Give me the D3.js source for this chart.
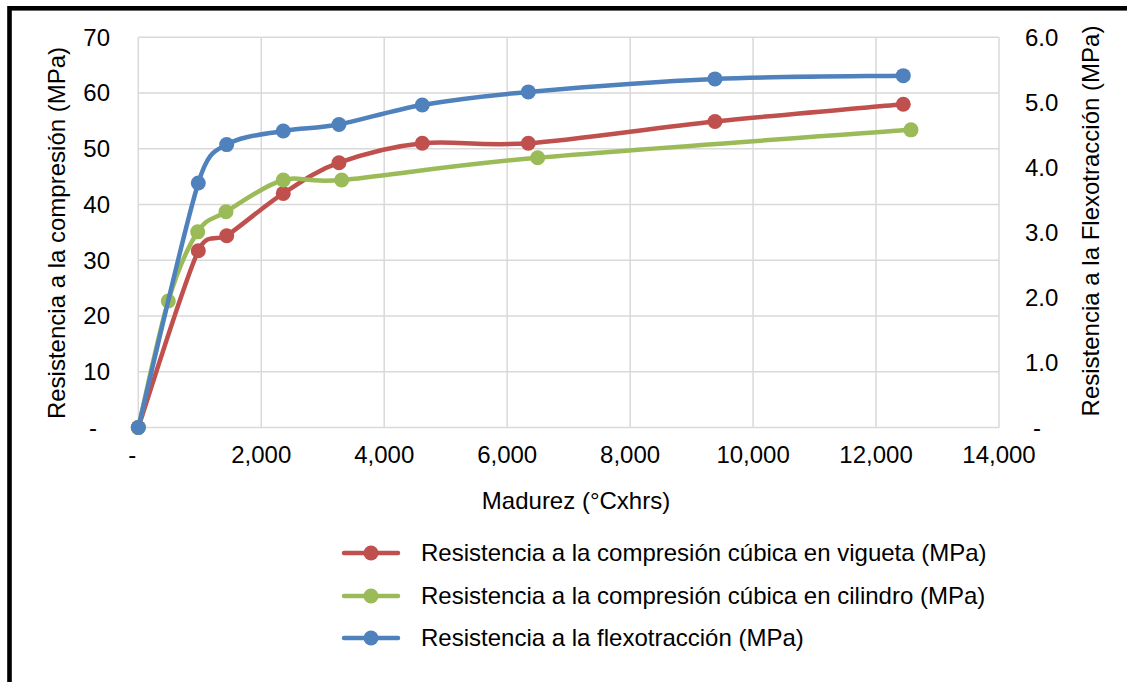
<!DOCTYPE html>
<html>
<head>
<meta charset="utf-8">
<script src="https://cdn.jsdelivr.net/npm/d3@7"></script>
<style>
  html, body { margin: 0; padding: 0; background: #fff; }
  svg { display: block; }
  text { font-family: "Liberation Sans", Arial, sans-serif; fill: #000; }
</style>
</head>
<body>
<svg id="chart" width="1127" height="682"></svg>
<script>
// Maturity (°C·h) at each test age
const madurezVigueta = [0, 976, 1438, 2358, 3264, 4619, 6344, 9380, 12443];
const madurezCilindro = [0, 488, 966, 1426, 2358, 3308, 6496, 12568];

// Strength results (MPa)
const compresionVigueta = [0, 31.7, 34.4, 42.0, 47.5, 51.0, 51.0, 54.9, 58.0];
const compresionCilindro = [0, 22.7, 35.1, 38.7, 44.4, 44.4, 48.4, 53.4];
const flexotraccion = [0, 3.76, 4.35, 4.56, 4.66, 4.96, 5.16, 5.36, 5.41];

// Axis ticks
const xTicks = [0, 2000, 4000, 6000, 8000, 10000, 12000, 14000];
const yLeftTicks = [0, 10, 20, 30, 40, 50, 60, 70];
const yRightTicks = [0, 1, 2, 3, 4, 5, 6];

const seriesNames = [
  "Resistencia a la compresión cúbica en vigueta (MPa)",
  "Resistencia a la compresión cúbica en cilindro (MPa)",
  "Resistencia a la flexotracción (MPa)"
];
const seriesColors = ["#C0504D", "#9BBB59", "#4F81BD"];

const svg = d3.select("#chart");
const plot = { left: 138.3, right: 999, top: 37.3, bottom: 427.5 };

const x = d3.scaleLinear().domain([0, 14000]).range([plot.left, plot.right]);
const yL = d3.scaleLinear().domain([0, 70]).range([plot.bottom, plot.top]);
const yR = d3.scaleLinear().domain([0, 6]).range([plot.bottom, plot.top]);

const fmtThousands = d3.format(",");
const FONT = "24px";
const MARKER_R = 7.5;

// Smoothed line: cubic Bézier segments with tangents (next - prev) / 6,
// shortened when the handles would be longer than the segment itself.
function SmoothCurve(context) { this._context = context; }
SmoothCurve.prototype = {
  areaStart() {}, areaEnd() {},
  lineStart() { this._pts = []; },
  point(px, py) { this._pts.push([+px, +py]); },
  lineEnd() {
    const p = this._pts, c = this._context, n = p.length;
    if (!n) return;
    c.moveTo(p[0][0], p[0][1]);
    for (let i = 0; i < n - 1; i++) {
      const p0 = p[Math.max(i - 1, 0)], p1 = p[i], p2 = p[i + 1], p3 = p[Math.min(i + 2, n - 1)];
      let ax = (p2[0] - p0[0]) / 6, ay = (p2[1] - p0[1]) / 6;
      let bx = (p3[0] - p1[0]) / 6, by = (p3[1] - p1[1]) / 6;
      const L = Math.hypot(p2[0] - p1[0], p2[1] - p1[1]);
      const la = Math.hypot(ax, ay), lb = Math.hypot(bx, by);
      if (la + lb > L && la + lb > 0) {
        const k = L / (la + lb);
        ax *= k; ay *= k; bx *= k; by *= k;
      }
      c.bezierCurveTo(p1[0] + ax, p1[1] + ay, p2[0] - bx, p2[1] - by, p2[0], p2[1]);
    }
  }
};
const smooth = ctx => new SmoothCurve(ctx);

// Outer frame
svg.append("rect")
  .attr("x", 9.5).attr("y", 8.3)
  .attr("width", 1200).attr("height", 800)
  .attr("fill", "none").attr("stroke", "#000").attr("stroke-width", 4.6);

// Gridlines
const grid = svg.append("g").attr("stroke", "#D9D9D9").attr("stroke-width", 1.5);
grid.selectAll("line.h").data(yLeftTicks).join("line")
  .attr("x1", plot.left).attr("x2", plot.right)
  .attr("y1", d => yL(d)).attr("y2", d => yL(d));
grid.selectAll("line.v").data(xTicks).join("line")
  .attr("y1", plot.top).attr("y2", plot.bottom)
  .attr("x1", d => x(d)).attr("x2", d => x(d));

// Left axis labels
svg.append("g").selectAll("text").data(yLeftTicks).join("text")
  .attr("x", d => d === 0 ? 97 : 110)
  .attr("y", d => yL(d))
  .attr("dy", "0.35em")
  .attr("text-anchor", "end")
  .style("font-size", FONT)
  .text(d => d === 0 ? "-" : d);

// Right axis labels
svg.append("g").selectAll("text").data(yRightTicks).join("text")
  .attr("x", d => d === 0 ? 1033 : 1025)
  .attr("y", d => yR(d))
  .attr("dy", "0.35em")
  .attr("text-anchor", "start")
  .style("font-size", FONT)
  .text(d => d === 0 ? "-" : d3.format(".1f")(d));

// Bottom axis labels
svg.append("g").selectAll("text").data(xTicks).join("text")
  .attr("x", d => d === 0 ? x(d) - 6 : x(d))
  .attr("y", 463)
  .attr("text-anchor", "middle")
  .style("font-size", FONT)
  .text(d => d === 0 ? "-" : fmtThousands(d));

// Axis titles
svg.append("text")
  .attr("transform", "translate(65,233) rotate(-90)")
  .attr("text-anchor", "middle")
  .style("font-size", "24px")
  .text("Resistencia a la compresión (MPa)");

svg.append("text")
  .attr("transform", "translate(1099,221) rotate(-90)")
  .attr("text-anchor", "middle")
  .style("font-size", "24px")
  .text("Resistencia a la Flexotracción (MPa)");

svg.append("text")
  .attr("x", 576).attr("y", 509)
  .attr("text-anchor", "middle")
  .style("font-size", "24px")
  .text("Madurez (°Cxhrs)");

// Series
const series = [
  { xs: madurezVigueta, ys: compresionVigueta, scale: yL },
  { xs: madurezCilindro, ys: compresionCilindro, scale: yL },
  { xs: madurezVigueta, ys: flexotraccion, scale: yR }
];

series.forEach((s, i) => {
  const pts = s.xs.map((v, j) => [x(v), s.scale(s.ys[j])]);
  const g = svg.append("g");
  g.append("path")
    .attr("d", d3.line().curve(smooth)(pts))
    .attr("fill", "none")
    .attr("stroke", seriesColors[i])
    .attr("stroke-width", 4.5)
    .attr("stroke-linejoin", "round")
    .attr("stroke-linecap", "round");
  g.selectAll("circle").data(pts).join("circle")
    .attr("cx", d => d[0]).attr("cy", d => d[1])
    .attr("r", MARKER_R)
    .attr("fill", seriesColors[i]);
});

// Legend
const legendRows = [553, 596, 638];
const legend = svg.append("g");
seriesNames.forEach((name, i) => {
  const row = legend.append("g").attr("transform", `translate(0,${legendRows[i]})`);
  row.append("line")
    .attr("x1", 344).attr("x2", 398).attr("y1", 0).attr("y2", 0)
    .attr("stroke", seriesColors[i]).attr("stroke-width", 4.5)
    .attr("stroke-linecap", "round");
  row.append("circle").attr("cx", 371).attr("cy", 0).attr("r", MARKER_R)
    .attr("fill", seriesColors[i]);
  row.append("text")
    .attr("x", 421).attr("y", 0).attr("dy", "0.35em")
    .style("font-size", FONT)
    .text(name);
});
</script>
</body>
</html>
